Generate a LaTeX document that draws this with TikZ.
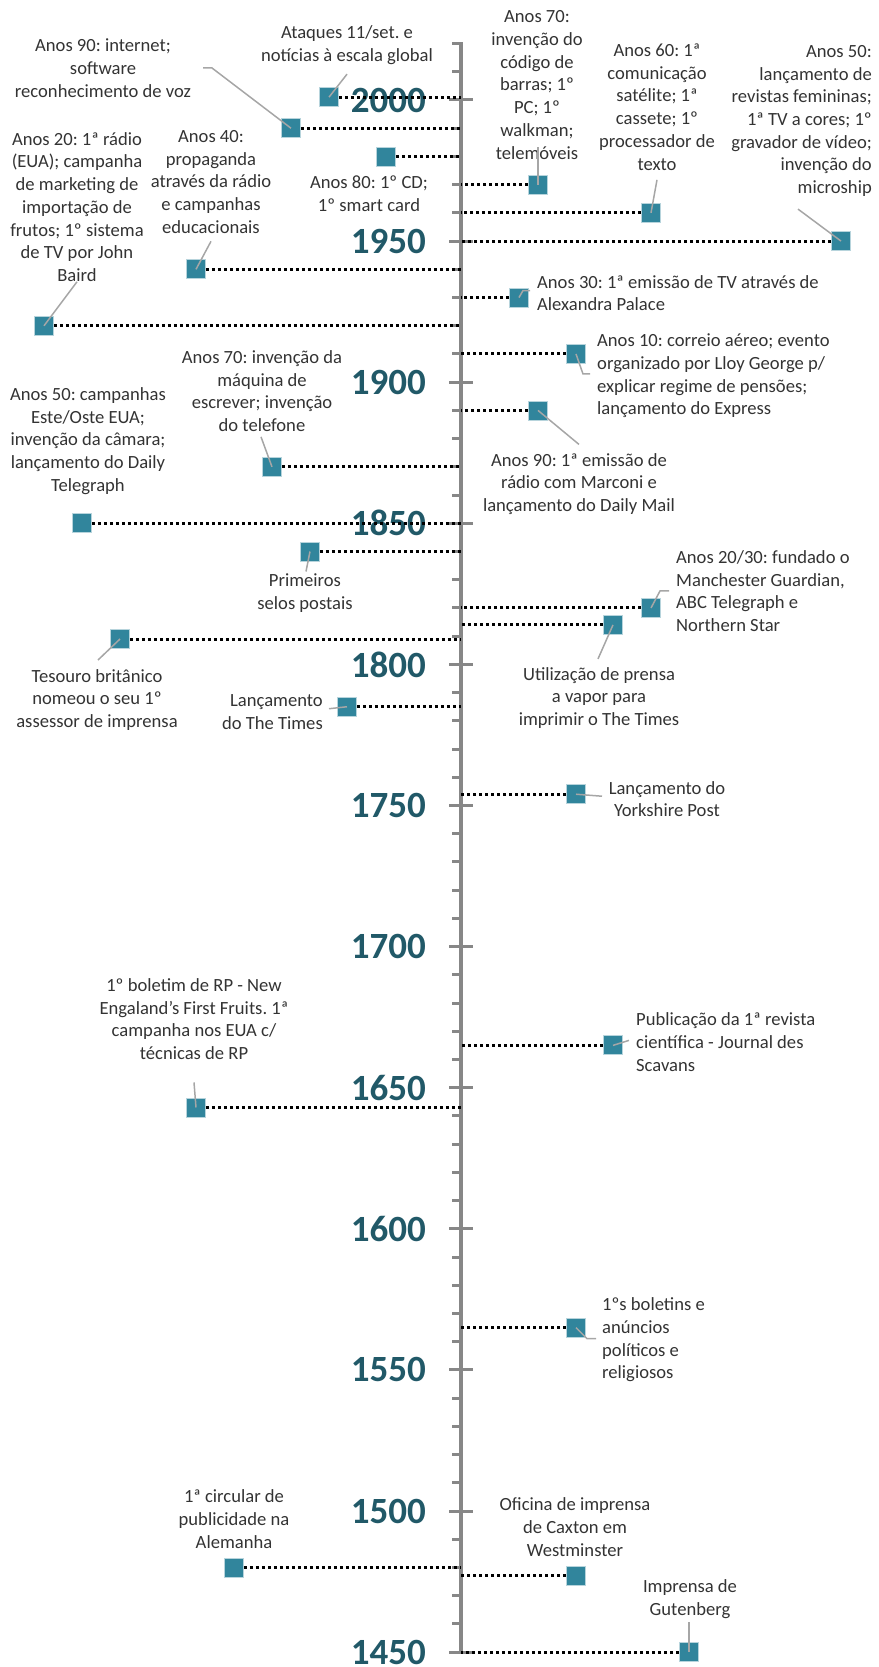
\documentclass[tikz,border=0pt]{standalone}
\usepackage{fontspec}
\setmainfont{Carlito}
\frenchspacing
\definecolor{tlAxis}{HTML}{878787}
\definecolor{tlTeal}{HTML}{31859C}
\definecolor{tlDark}{HTML}{215968}
\definecolor{tlInk}{HTML}{333333}
\definecolor{tlLead}{HTML}{A6A6A6}
\newcommand\tlfont{\fontsize{18.6}{22.7}\selectfont}
\newcommand\Y[1]{100+(2000-#1)*2.822}
\tikzset{
 tl/.style={font=\tlfont,text=tlInk},
 axis/.style={draw=tlAxis,line width=3.5pt},
 minortick/.style={draw=tlAxis,line width=3pt},
 majortick/.style={draw=tlAxis,line width=3pt},
 yearlbl/.style={font=\fontsize{37}{40}\selectfont\bfseries,text=tlDark,anchor=east,inner sep=0pt},
 event/.style={rectangle,fill=tlTeal,draw=tlTeal!35,line width=.8pt,inner sep=0pt,minimum size=19pt},
 dots/.style={draw=black,line width=3pt,dash pattern=on 3pt off 3pt},
 leader/.style={draw=tlLead,line width=1.5pt},
 note/.style={inner sep=0pt,align=center},
 noteL/.style={note,align=left,anchor=west},
 noteR/.style={note,align=right,anchor=east}
}
\begin{document}
\begin{tikzpicture}[tl,x=1pt,y=-1pt]
 \useasboundingbox (0,0) rectangle (878,1667);
 \coordinate (ax) at (461,0);
 \foreach \yr in {1450,1460,...,2020}{\draw[minortick] (452,{\Y{\yr}}) -- (461,{\Y{\yr}});}
 \foreach \yr in {1450,1500,...,2000}{
   \draw[majortick] (449,{\Y{\yr}}) -- (473,{\Y{\yr}});
   \node[yearlbl] (y\yr) at (426,{\Y{\yr}}) {\yr};}
 \draw[axis] (461,{\Y{2020}-1.5}) -- (461,{\Y{1450}+1.5});
 \foreach \yr/\x in {2001/329,1990/291,1980/386,1970/538,1960/651,1950/841,1940/196,1930/519,
   1920/44,1910/576,1890/538,1870/272,1850/82,1840/310,1820/651,1814/613,1809/120,1785/347,
   1754/576,1665/613,1643/196,1565/576,1480/234,1477/576,1450/689}{
   \node[event] (m\yr) at (\x,{\Y{\yr}}) {};
   \draw[dots] (m\yr) -- (m\yr -| ax);}
 \node[note] (t2001) at (347,45) {Ataques 11/set. e\\notícias à escala global};
 \node[note] (t1990) at (103,68) {Anos 90: internet;\\software\\reconhecimento de voz};
 \node[note] (t1980) at (369,194) {Anos 80: 1º CD;\\1º smart card};
 \node[note] (t1970) at (537,85) {Anos 70:\\invenção do\\código de\\barras; 1º\\PC; 1º\\walkman;\\telemóveis};
 \node[note] (t1960) at (657,107) {Anos 60: 1ª\\comunicação\\satélite; 1ª\\cassete; 1º\\processador de\\texto};
 \node[noteR] (t1950) at (872,121) {Anos 50:\\lançamento de\\revistas femininas;\\1ª TV a cores; 1º\\gravador de vídeo;\\invenção do\\microship};
 \node[note] (t1940) at (211,182) {Anos 40:\\propaganda\\através da rádio\\e campanhas\\educacionais};
 \node[noteL] (t1930) at (537,293) {Anos 30: 1ª emissão de TV através de\\Alexandra Palace};
 \node[note] (t1920) at (77,207) {Anos 20: 1ª rádio\\(EUA); campanha\\de marketing de\\importação de\\frutos; 1º sistema\\de TV por John\\Baird};
 \node[noteL] (t1910) at (597,376) {Anos 10: correio aéreo; evento\\organizado por Lloy George p/\\explicar regime de pensões;\\lançamento do Express};
 \node[note] (t1890) at (579,484) {Anos 90: 1ª emissão de\\rádio com Marconi e\\lançamento do Daily Mail};
 \node[note] (t1870) at (262,391) {Anos 70: invenção da\\máquina de\\escrever; invenção\\do telefone};
 \node[note] (t1850) at (88,441) {Anos 50: campanhas\\Este/Oste EUA;\\invenção da câmara;\\lançamento do Daily\\Telegraph};
 \node[note] (t1840) at (305,593) {Primeiros\\selos postais};
 \node[noteL] (t1820) at (676,591) {Anos 20/30: fundado o\\Manchester Guardian,\\ABC Telegraph e\\Northern Star};
 \node[note] (t1814) at (599,698) {Utilização de prensa\\a vapor para\\imprimir o The Times};
 \node[note] (t1809) at (97,700) {Tesouro britânico\\nomeou o seu 1º\\assessor de imprensa};
 \node[noteR] (t1785) at (323,712) {Lançamento\\do The Times};
 \node[note] (t1754) at (667,799) {Lançamento do\\Yorkshire Post};
 \node[noteL] (t1665) at (636,1042) {Publicação da 1ª revista\\científica - Journal des\\Scavans};
 \node[note] (t1643) at (194,1019) {1º boletim de RP - New\\Engaland's First Fruits. 1ª\\campanha nos EUA c/\\técnicas de RP};
 \node[noteL] (t1565) at (602,1340) {1ºs boletins e\\anúncios\\políticos e\\religiosos};
 \node[note] (t1480) at (234,1519) {1ª circular de\\publicidade na\\Alemanha};
 \node[note] (t1477) at (575,1527) {Oficina de imprensa\\de Caxton em\\Westminster};
 \node[note] (t1450) at (690,1599) {Imprensa de\\Gutenberg};
 \draw[leader] (m2001.center) -- ++(18,-23);
 \draw[leader] (m1990.center) -- (212,68) -- (203,68);
 \draw[leader] (m1970.center) -- ++(0,-38);
 \draw[leader] (m1960.center) -- ++(6,-33);
 \draw[leader] (m1950.center) -- ++(-43,-32);
 \draw[leader] (m1940.center) -- ++(15,-28);
 \draw[leader] (m1930.center) -- ++(4,-7) -- ++(7,0);
 \draw[leader] (m1920.center) -- ++(33,-44);
 \draw[leader] (m1910.center) -- ++(7,20) -- ++(7,0);
 \draw[leader] (m1890.center) -- ++(41,34);
 \draw[leader] (m1870.center) -- ++(-11,-30);
 \draw[leader] (m1840.center) -- ++(-4,20);
 \draw[leader] (m1820.center) -- ++(9,-17) -- ++(9,0);
 \draw[leader] (m1814.center) -- ++(-15,34);
 \draw[leader] (m1809.center) -- ++(-22,21);
 \draw[leader] (m1785.center) -- ++(-18,2);
 \draw[leader] (m1754.center) -- ++(26,2);
 \draw[leader] (m1665.center) -- ++(16,-5);
 \draw[leader] (m1643.center) -- ++(-2,-25);
 \draw[leader] (m1565.center) -- ++(11,11) -- ++(9,0);
 \draw[leader] (m1450.center) -- ++(0,-30);
\end{tikzpicture}
\end{document}
